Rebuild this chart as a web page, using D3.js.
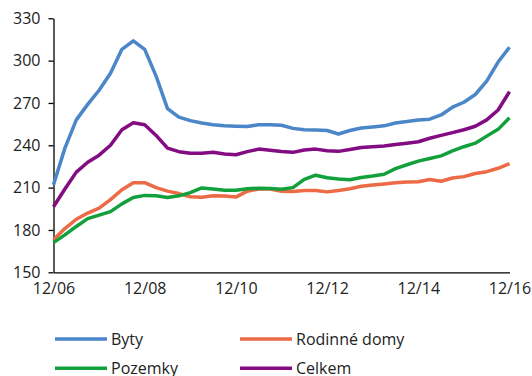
<!DOCTYPE html>
<html>
<head>
<meta charset="utf-8">
<script src="https://cdn.jsdelivr.net/npm/d3@7"></script>
<style>
  html, body { margin: 0; padding: 0; background: #fff; }
  svg { display: block; }
  text { font-family: "Open Sans", "Noto Sans", sans-serif; fill: #222; }
</style>
</head>
<body>
<svg id="chart" width="532" height="376"></svg>
<script>
// Quarterly price indices, Q4 2006 – Q4 2016 (41 quarters)
const quarterCount = 41;

const byty = [212, 238, 258, 269, 279, 291, 308, 314, 308, 289,
  266, 260, 257.5, 255.8, 254.6, 253.8, 253.5, 253.3, 254.6, 254.5,
  254.2, 252, 251, 250.8, 250.5, 248, 250.5, 252.3, 253, 253.8,
  255.8, 256.8, 258, 258.5, 261.5, 267, 270.5, 276, 285.5, 299, 309.5];

const rodinneDomy = [173, 181, 187.6, 192, 195.5, 201.5, 208.5, 213.5, 213.5, 210,
  207.5, 205.8, 203.5, 203.2, 204.2, 204, 203.3, 207.5, 209, 209,
  207.5, 207.2, 208, 208, 207, 208, 209.2, 211, 211.8, 212.6,
  213.5, 214, 214.2, 215.8, 214.5, 216.8, 217.8, 220, 221.3, 223.7, 227];

const pozemky = [171, 176.5, 182.5, 188, 190.5, 193, 198.5, 203, 204.5, 204.3,
  203, 204.2, 206.5, 209.8, 209, 208.2, 208.1, 209.2, 209.6, 209.4,
  208.8, 210, 215.8, 218.8, 217, 216.2, 215.6, 217.2, 218.2, 219.5,
  223.5, 226.2, 228.8, 230.6, 232.5, 236, 239, 241.5, 246.5, 251.3, 259.5];

const celkem = [196.5, 209, 221, 228, 233, 240, 251, 256, 254.5, 247,
  238, 235.5, 234.3, 234.3, 235, 233.8, 233.3, 235.5, 237.3, 236.5,
  235.6, 235, 236.7, 237.3, 236.2, 235.7, 237, 238.5, 239, 239.5,
  240.5, 241.5, 242.5, 245, 247, 249, 251, 253.5, 258, 265, 278];

const seriesNames = ["Byty", "Rodinné domy", "Pozemky", "Celkem"];
const seriesColors = ["#4a86c8", "#ec6a45", "#12a03c", "#830c83"];

const xTickIndex = [0, 8, 16, 24, 32, 40];
const xTickLabels = ["12/06", "12/08", "12/10", "12/12", "12/14", "12/16"];
const yTicks = [150, 180, 210, 240, 270, 300, 330];

const series = [byty, rodinneDomy, pozemky, celkem].map((values, k) => ({
  name: seriesNames[k], color: seriesColors[k], values
}));

const svg = d3.select("#chart");
const plotLeft = 53.5, plotRight = 509.5, plotTop = 18.3, plotBottom = 272.3;

const x = d3.scaleLinear().domain([0, quarterCount - 1]).range([plotLeft, plotRight]);
const y = d3.scaleLinear().domain([150, 330]).range([plotBottom, plotTop]);

// Y axis: outer ticks, labels on the left
const yAxis = svg.append("g")
  .attr("transform", `translate(${plotLeft},0)`)
  .call(d3.axisLeft(y).tickValues(yTicks).tickSize(5).tickPadding(8).tickSizeOuter(0));
yAxis.select(".domain").attr("stroke", "#000").attr("stroke-width", 1.3);
yAxis.selectAll(".tick line").attr("stroke", "#000").attr("stroke-width", 1.3);
yAxis.selectAll(".tick text")
  .style("font-family", '"Open Sans", "Noto Sans", sans-serif')
  .style("font-size", "16px").attr("fill", "#222");

// X axis: baseline with labels, no tick marks
const xAxis = svg.append("g")
  .attr("transform", `translate(0,${plotBottom})`)
  .call(d3.axisBottom(x).tickValues(xTickIndex)
    .tickFormat((d, i) => xTickLabels[i]).tickSize(0).tickPadding(10).tickSizeOuter(0));
xAxis.select(".domain").attr("stroke", "#000").attr("stroke-width", 1.3);
xAxis.selectAll(".tick text")
  .style("font-family", '"Open Sans", "Noto Sans", sans-serif')
  .style("font-size", "16px").attr("fill", "#222");

// Lines
const line = d3.line().x((d, i) => x(i)).y(d => y(d));
svg.append("g").selectAll("path")
  .data(series)
  .join("path")
  .attr("d", d => line(d.values))
  .attr("fill", "none")
  .attr("stroke", d => d.color)
  .attr("stroke-width", 3.5)
  .attr("stroke-linejoin", "round")
  .attr("stroke-linecap", "butt");

// Legend: two columns, two rows
const legendCols = [55, 240];
const legendRows = [339, 368.3];
const legend = svg.append("g").selectAll("g")
  .data(series)
  .join("g")
  .attr("transform", (d, i) => `translate(${legendCols[i % 2]},${legendRows[Math.floor(i / 2)]})`);
legend.append("line")
  .attr("x1", 0).attr("x2", 52).attr("y1", 0).attr("y2", 0)
  .attr("stroke", d => d.color).attr("stroke-width", 3.5);
legend.append("text")
  .attr("x", 56).attr("y", 0).attr("dy", "0.35em")
  .style("font-size", "16px")
  .text(d => d.name);
</script>
</body>
</html>
